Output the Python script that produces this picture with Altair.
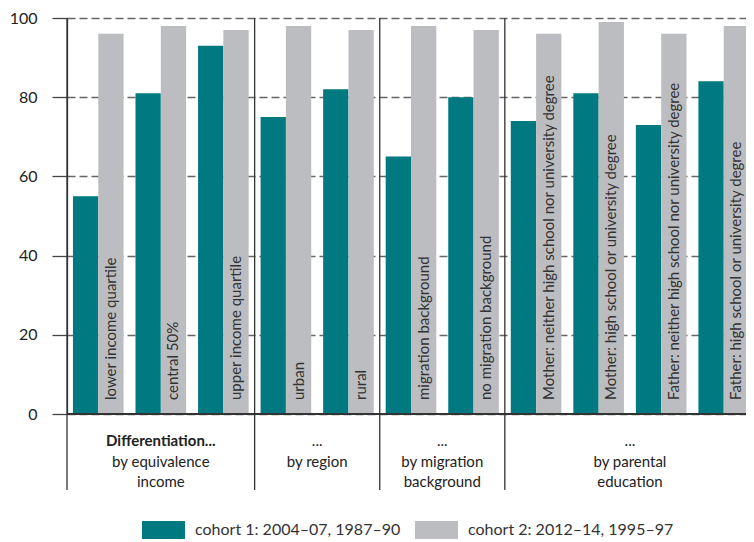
import altair as alt
import pandas as pd

categories = [
    "lower income quartile", "central 50%", "upper income quartile",
    "urban", "rural",
    "migration background", "no migration background",
    "Mother: neither high school nor university degree",
    "Mother: high school or university degree",
    "Father: neither high school nor university degree",
    "Father: high school or university degree",
]
cohorts = ["cohort 1: 2004–07, 1987–90", "cohort 2: 2012–14, 1995–97"]
cohort1 = [55, 81, 93, 75, 82, 65, 80, 74, 81, 73, 84]
cohort2 = [96, 98, 97, 98, 97, 98, 97, 96, 99, 96, 98]

group_first = ["Differentiation...", "...", "...", "..."]
group_second = ["by equivalence", "by region", "by migration", "by parental"]
group_third = ["income", "", "background", "education"]
group_start = [0, 3, 5, 7]
group_end = [3, 5, 7, 11]

TEAL = "#007A80"
GREY = "#BCBDC1"
FONT = "Lato"

rows = []
for c, v1, v2 in zip(categories, cohort1, cohort2):
    rows.append({"category": c, "cohort": cohorts[0], "value": v1})
    rows.append({"category": c, "cohort": cohorts[1], "value": v2})
df = pd.DataFrame(rows)
df_lbl = pd.DataFrame({"category": categories, "cohort": cohorts[1], "label": categories})
df_grp = pd.DataFrame({
    "start": group_start, "end": group_end,
    "mid": [(s + e) / 2 for s, e in zip(group_start, group_end)],
    "l1": group_first, "l2": group_second, "l3": group_third,
    "idx": list(range(len(group_first))),
})

RMAX = 688
xband = alt.X("category:N", sort=categories, axis=None,
              scale=alt.Scale(rangeMin=0, rangeMax=RMAX, paddingInner=0.1905, paddingOuter=0.0952))
xoff = alt.XOffset("cohort:N", sort=cohorts, scale=alt.Scale(paddingInner=0, paddingOuter=0))
yenc = alt.Y("value:Q", title=None,
             scale=alt.Scale(domain=[0, 100], nice=False),
             axis=alt.Axis(values=[0, 20, 40, 60, 80, 100], domain=True, domainColor="#333",
                           domainWidth=1.3, ticks=True, tickSize=15, tickColor="#444",
                           tickWidth=1.3, grid=True, gridDash=[8, 4], gridColor="#666",
                           gridWidth=1.3, labelPadding=15, labelFont=FONT, labelFontSize=16,
                           labelColor="#222"))

path = "M-2.39,-1H2.39V1H-2.39Z"
bars = alt.Chart(df).mark_bar().encode(
    x=xband, xOffset=xoff, y=yenc,
    color=alt.Color("cohort:N", scale=alt.Scale(domain=cohorts, range=[TEAL, GREY]),
                    legend=alt.Legend(title=None, orient="none", legendX=87.5, legendY=503,
                                      direction="horizontal", symbolType=path, symbolSize=324,
                                      symbolStrokeWidth=0, symbolOpacity=1,
                                      labelFont=FONT, labelFontSize=16, labelColor="#333",
                                      labelLimit=500, labelOffset=22.5, columnPadding=14)),
)

labels = alt.Chart(df_lbl).mark_text(angle=270, align="left", baseline="middle", dx=14,
                                     font=FONT, fontSize=15, color="#333").encode(
    x=xband, xOffset=xoff, y=alt.datum(0), text="label:N")

zero = alt.Chart(df_grp).mark_rule(color="#333", strokeWidth=1.3).encode(y=alt.datum(0))

xq = alt.Scale(domain=[0, 11], rangeMin=0, rangeMax=RMAX)
seps = alt.Chart(df_grp).mark_rule(color="#333", strokeWidth=1.3).encode(
    x=alt.X("start:Q", scale=xq, axis=None), y=alt.value(0), y2=alt.value(472))

t_bold = alt.Chart(df_grp).transform_filter("datum.idx == 0").mark_text(
    font=FONT, fontSize=15, fontWeight="bold", color="#222", baseline="alphabetic").encode(
    x=alt.X("mid:Q", scale=xq, axis=None), y=alt.value(428), text="l1:N")
t_l1 = alt.Chart(df_grp).transform_filter("datum.idx > 0").mark_text(
    font=FONT, fontSize=15, color="#222", baseline="alphabetic").encode(
    x=alt.X("mid:Q", scale=xq, axis=None), y=alt.value(428), text="l1:N")
t_l2 = alt.Chart(df_grp).mark_text(
    font=FONT, fontSize=15, color="#222", baseline="alphabetic").encode(
    x=alt.X("mid:Q", scale=xq, axis=None), y=alt.value(449), text="l2:N")
t_l3 = alt.Chart(df_grp).mark_text(
    font=FONT, fontSize=15, color="#222", baseline="alphabetic").encode(
    x=alt.X("mid:Q", scale=xq, axis=None), y=alt.value(469), text="l3:N")

main = alt.layer(bars, labels, zero)
deco = alt.layer(seps, t_bold, t_l1, t_l2, t_l3)

chart = alt.layer(main, deco).resolve_scale(x="independent").properties(
    width=679, height=396,
    autosize=alt.AutoSizeParams(type="none"),
    padding={"left": 59, "top": 10, "right": 0, "bottom": 128},
).configure_view(stroke=None)

chart.save("out.html", embed_options={"renderer": "svg", "actions": False})
